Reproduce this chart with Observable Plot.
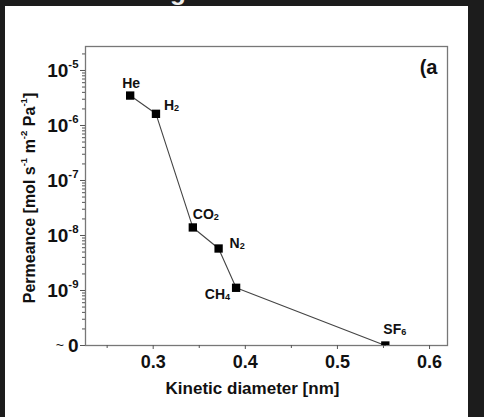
<!DOCTYPE html>
<html><head><meta charset="utf-8">
<script src="https://cdn.jsdelivr.net/npm/d3@7"></script>
<script src="https://cdn.jsdelivr.net/npm/@observablehq/plot@0.6"></script>
<style>
html,body{margin:0;padding:0;background:#fff;}
#wrap{position:relative;width:484px;height:417px;overflow:hidden;background:#fff;}
.bar{position:absolute;background:#1c1c1c;}
#chart svg{font-family:"Liberation Sans",Arial,sans-serif;font-weight:bold;color:#111;}
#topcut{position:absolute;left:0;top:0;width:484px;height:6px;overflow:hidden;background:#1c1c1c;}
#topcut span{position:absolute;left:170px;top:-24px;color:#eee;font:bold 26px "Liberation Sans",Arial,sans-serif;line-height:30px;}
</style></head><body>
<div id="wrap"><div id="chart"></div>
<div class="bar" style="left:0;top:0;width:5px;height:417px;"></div>
<div class="bar" style="left:468px;top:0;width:16px;height:417px;"></div>
<div id="topcut"><span>g</span></div>
</div>
<script>
// ---- data ----
const gases = ["He", "H_2", "CO_2", "N_2", "CH_4", "SF_6"];
const diameters = [0.275, 0.303, 0.343, 0.371, 0.390, 0.552];
const permeance = [3.5e-6, 1.63e-6, 1.4e-8, 5.8e-9, 1.12e-9, 1e-10];
const xTicks = [0.3, 0.4, 0.5, 0.6];
const xTickLabels = ["0.3", "0.4", "0.5", "0.6"];
const yTicks = [1e-10, 1e-9, 1e-8, 1e-7, 1e-6, 1e-5];
const yTickLabels = ["~0", "10^-9", "10^-8", "10^-7", "10^-6", "10^-5"];
const xTitle = "Kinetic diameter [nm]";
const yTitle = "Permeance [mol s^-1 m^-2 Pa^-1]";
const panel = "(a";

const rows = gases.map((g, i) => ({gas: g, d: diameters[i], p: permeance[i]}));

const xDomain = [0.2265, 0.6195];
const yDomain = [1e-10, Math.pow(10, -4.564)];

// minor ticks
const xMinor = [0.25, 0.35, 0.45, 0.55];
const yMinor = [];
for (let e = -10; e <= -5; e++) for (let m = 2; m <= 9; m++) {
  const v = m * Math.pow(10, e);
  if (v <= yDomain[1]) yMinor.push(v);
}

const labelPos = {
  "He":   {dx: 1,  dy: -12, textAnchor: "middle"},
  "H_2":  {dx: 8,  dy: -8,  textAnchor: "start"},
  "CO_2": {dx: 0,  dy: -13, textAnchor: "start"},
  "N_2":  {dx: 11, dy: -5,  textAnchor: "start"},
  "CH_4": {dx: -6, dy: 7,   textAnchor: "end"},
  "SF_6": {dx: -2, dy: -16, textAnchor: "start"}
};

const chart = Plot.plot({
  width: 484, height: 417,
  marginLeft: 85, marginRight: 37, marginTop: 46, marginBottom: 72,
  style: {background: "transparent", fontFamily: '"Liberation Sans", Arial, sans-serif'},
  x: {domain: xDomain},
  y: {type: "log", domain: yDomain},
  marks: [
    Plot.frame({stroke: "#777", strokeWidth: 1.3}),
    Plot.axisX({ticks: xMinor, tickSize: 3, text: null, label: null, stroke: "#555"}),
    Plot.axisX({ticks: xTicks, tickSize: 4, tickPadding: 6, fontSize: 18, fontWeight: "bold",
      tickFormat: (d) => xTickLabels[xTicks.indexOf(d)], label: null, stroke: "#555"}),
    Plot.axisY({ticks: yMinor, tickSize: 3, text: null, label: null, stroke: "#555"}),
    Plot.axisY({ticks: yTicks, tickSize: 5, tickPadding: 2, fontSize: 19, fontWeight: "bold",
      tickFormat: (d) => yTickLabels[yTicks.indexOf(d)], label: null, stroke: "#555"}),
    Plot.text([xTitle], {frameAnchor: "bottom", text: (d) => d, dx: -14, dy: 43, fontSize: 17, fontWeight: "bold",
      textAnchor: "middle", lineAnchor: "middle"}),
    Plot.text([yTitle], {frameAnchor: "left", text: (d) => d, rotate: -90, dx: -56, dy: 2, fontSize: 16, fontWeight: "bold",
      textAnchor: "middle", lineAnchor: "middle"}),
    Plot.text([panel], {frameAnchor: "top-right", text: (d) => d, dx: -10, dy: 21, fontSize: 20, fontWeight: "bold",
      textAnchor: "end", lineAnchor: "middle"}),
    Plot.line(rows, {x: "d", y: "p", stroke: "#444", strokeWidth: 1.1}),
    Plot.dot(rows, {x: "d", y: "p", symbol: "square", r: 4.7, fill: "#000", stroke: "none", clip: true}),
    ...gases.map((g) => Plot.text(rows.filter((r) => r.gas === g), {
      x: "d", y: "p", text: "gas", fontSize: 14, fontWeight: "bold", fill: "#111", ...labelPos[g]
    }))
  ]
});
document.getElementById("chart").appendChild(chart);

// rich text: ^x superscript, _x subscript, ~ light tilde
const NS = "http://www.w3.org/2000/svg";
chart.querySelectorAll("text").forEach((t) => {
  const s = t.textContent;
  if (!/[\^_~]/.test(s)) return;
  const parts = s.split(/(\^-?\d+|_\d+|~)/).filter((p) => p !== "");
  t.textContent = "";
  let shift = 0;
  for (const p of parts) {
    const ts = document.createElementNS(NS, "tspan");
    let target = 0;
    if (p[0] === "^") {
      ts.textContent = p.slice(1);
      ts.setAttribute("font-size", "0.6em");
      target = -0.75;
    } else if (p[0] === "_") {
      ts.textContent = p.slice(1);
      ts.setAttribute("font-size", "0.65em");
      target = 0.12;
    } else if (p === "~") {
      ts.textContent = "~ ";
      ts.setAttribute("font-weight", "normal");
      ts.setAttribute("font-size", "0.75em");
      target = -0.1;
    } else {
      ts.textContent = p;
      target = 0;
    }
    const fs = parseFloat(getComputedStyle(t).fontSize) || 14;
    const delta = (target - shift) * fs * 0.6;
    if (Math.abs(delta) > 0.01) ts.setAttribute("dy", delta.toFixed(2));
    shift = target;
    t.appendChild(ts);
  }
});
</script>
</body></html>
